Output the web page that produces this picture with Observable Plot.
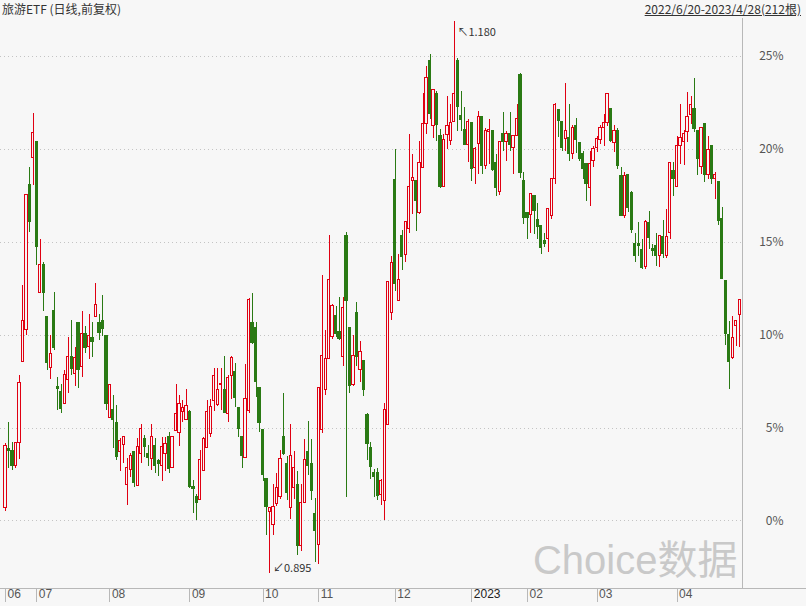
<!DOCTYPE html>
<html><head><meta charset="utf-8">
<script src="https://cdn.jsdelivr.net/npm/d3@7"></script>
<script src="https://cdn.jsdelivr.net/npm/@observablehq/plot@0.6"></script>
<style>
body{margin:0;background:#f7f7f7;}
#wrap{position:relative;width:806px;height:606px;overflow:hidden;font-family:"Noto Sans CJK SC",sans-serif;}
#title{position:absolute;left:2px;top:0px;font-size:12px;color:#333;line-height:18px;}
#range{position:absolute;right:5px;top:0px;font-size:12px;color:#333;line-height:18px;text-decoration:underline;}
svg{display:block;}
</style></head><body>
<div id="wrap"><div id="title">旅游ETF (日线,前复权)</div><div id="range">2022/6/20-2023/4/28(212根)</div></div>
<script>
// percent change vs. base, one value per trading day (212 candles)
const openP=[0.7,3.9,3.76,2.94,4.2,8.55,10.27,18.1,19.53,20.39,12.27,13.8,11.0,8.26,11.3,7.2,6.95,6.3,7.57,8.8,
7.9,10.67,8.28,10.04,9.39,9.86,10.98,10.67,10.76,9.98,5.52,5.97,5.28,3.72,4.1,1.96,2.74,3.72,1.86,3.62,
4.44,3.62,3.33,4.05,3.23,2.94,3.62,4.5,2.84,4.83,4.74,5.87,5.44,5.87,1.82,1.31,1.12,2.68,3.95,4.7,
6.46,6.26,7.3,7.05,5.77,7.83,8.0,6.1,4.54,3.37,5.91,10.67,10.41,7.18,4.89,2.25,0.49,-0.2,0.92,1.27,
4.5,3.07,0.68,1.8,1.96,-1.37,0.98,3.72,3.07,0.39,-1.27,4.89,7.05,8.7,9.88,11.06,10.18,8.8,15.36,10.41,
7.3,11.2,8.12,8.6,5.71,3.95,2.58,2.58,1.41,1.08,5.19,11.2,18.36,11.84,15.36,14.33,15.7,18.3,18.29,16.6,
19.0,21.38,24.78,21.25,22.97,20.7,18.0,20.8,20.45,21.5,24.78,21.8,21.06,20.25,21.4,19.0,20.3,21.74,19.12,20.94,
20.97,19.27,17.7,20.85,20.38,20.85,20.07,20.7,23.98,18.3,16.6,16.45,17.5,16.2,15.86,15.05,15.2,16.4,18.39,22.12,
21.47,20.54,20.63,19.73,21.26,20.36,19.73,19.19,17.94,19.37,20.09,20.5,21.17,21.4,22.19,20.33,20.97,18.55,16.4,18.64,
17.65,14.9,14.9,14.6,13.67,16.04,14.64,14.78,14.24,15.29,14.24,15.5,18.82,17.98,20.2,20.4,20.92,21.83,22.17,20.97,
19.05,21.38,18.64,20.2,18.41,18.25,16.25,12.9,10.03,8.77,10.48,11.1];
const closeP=[4.05,3.78,2.94,4.2,7.44,10.76,17.57,16.09,20.9,14.76,13.8,12.27,8.5,9.0,9.3,7.1,6.03,7.87,8.85,8.2,
8.75,8.12,10.04,9.33,9.94,9.63,11.6,10.12,10.33,6.3,7.32,5.42,3.46,4.3,4.5,2.84,3.52,2.05,4.0,4.95,
3.97,3.37,4.5,2.94,3.07,4.0,4.15,2.8,4.5,5.77,6.3,6.1,6.2,1.82,1.7,0.98,3.29,4.4,5.87,6.16,
7.83,7.05,7.4,5.81,7.7,8.75,6.6,4.93,3.52,6.56,11.88,9.59,7.48,5.28,2.45,0.78,0.68,0.78,1.8,3.33,
3.62,1.5,3.52,2.84,-1.37,0.98,3.29,2.94,1.6,-0.55,7.14,8.9,8.7,12.97,11.55,10.08,9.82,11.45,11.84,7.28,
8.86,8.81,9.1,7.04,4.15,2.88,2.35,1.37,2.15,6.0,12.86,13.9,12.76,12.97,14.19,16.09,17.96,18.47,17.2,19.28,
21.38,23.85,21.88,23.2,21.3,18.0,20.5,21.25,21.4,22.97,22.27,21.6,20.25,21.5,18.97,20.0,21.74,19.12,21.0,21.06,
18.9,17.92,20.38,20.38,20.85,20.25,20.74,21.64,18.73,16.3,16.3,17.6,16.66,15.8,14.7,14.9,16.77,18.42,22.37,21.53,
20.09,20.99,19.73,21.17,20.5,19.5,18.93,18.12,19.19,20.0,20.54,21.17,21.4,22.96,20.45,20.97,19.12,16.4,18.55,16.85,
15.68,14.28,14.78,13.62,16.09,15.23,14.55,14.24,15.32,14.39,15.29,19.27,18.4,20.2,20.61,20.85,21.74,22.4,21.12,19.48,
21.15,18.64,19.99,18.41,18.64,16.13,13.0,10.08,8.54,9.85,10.75,11.9];
const highP=[4.15,5.28,4.2,4.2,7.83,12.66,17.57,19.02,21.92,20.39,15.15,13.9,11.0,9.98,12.3,7.7,7.34,8.12,9.9,10.8,
9.35,10.67,11.3,10.47,11.1,10.67,12.78,11.1,12.13,9.98,7.32,6.75,6.2,4.44,4.5,3.37,3.62,3.72,4.44,5.19,
4.6,4.05,5.19,4.44,3.33,4.5,4.5,4.74,4.5,7.34,6.75,6.46,7.08,5.97,2.19,1.41,3.82,4.5,6.5,6.56,
8.22,8.22,8.22,8.85,7.83,8.85,8.5,6.1,4.54,8.41,12.0,12.23,10.67,7.18,4.89,2.25,0.68,1.96,2.58,3.82,
6.85,3.46,5.19,3.72,2.64,1.96,4.4,5.38,4.4,1.21,7.14,13.2,10.27,15.36,11.64,11.55,12.04,12.04,15.55,10.41,
9.98,11.74,9.65,8.6,5.77,4.2,2.78,2.84,2.25,6.3,12.86,14.23,20.0,14.33,15.66,16.09,20.78,19.7,18.29,20.45,
22.99,24.48,25.1,23.2,23.1,21.06,20.8,22.86,22.4,26.9,24.9,23.1,22.24,21.6,21.4,20.1,22.05,21.74,21.15,21.6,
20.97,19.7,20.38,21.96,20.97,21.96,20.74,22.4,24.08,18.73,16.6,17.6,17.5,17.1,15.86,15.5,16.77,18.42,22.48,22.12,
21.47,23.56,22.43,21.26,21.65,20.36,19.91,19.19,19.91,20.18,20.68,21.26,21.89,22.96,22.19,21.3,21.15,19.0,18.73,18.64,
17.74,15.5,16.04,15.14,16.18,16.67,14.87,15.5,15.32,16.16,16.76,19.27,19.27,20.67,22.4,21.0,23.07,22.86,23.84,20.97,
21.15,21.38,20.7,20.2,18.73,18.25,16.85,12.9,10.75,11.0,10.75,11.9];
const lowP=[0.5,2.84,2.74,2.84,3.33,8.55,10.0,15.52,18.04,13.74,12.23,11.3,8.1,7.63,9.2,5.95,5.77,6.3,6.85,7.83,
7.24,7.14,7.73,9.0,8.7,8.8,10.98,9.7,9.94,5.97,5.52,3.9,3.27,2.64,3.07,0.82,2.35,1.82,1.86,3.1,
3.42,2.94,2.74,2.58,2.39,2.15,2.64,2.58,2.84,4.83,4.0,5.28,5.44,1.76,0.39,0.0,1.08,2.68,3.95,4.5,
5.87,6.16,5.97,5.77,5.28,6.56,6.1,4.5,2.84,3.37,5.77,9.49,6.62,4.74,2.15,-0.78,-2.84,-0.78,0.78,1.17,
3.52,1.08,0.1,1.17,-1.86,-1.66,0.98,2.45,1.08,-2.25,-2.35,4.7,6.75,8.7,9.78,9.88,9.69,8.3,1.27,6.85,
7.24,8.3,7.44,6.69,3.27,2.25,1.27,1.08,0.82,0.0,5.19,10.77,12.33,11.84,13.5,13.9,15.46,16.5,15.6,16.5,
19.0,20.8,21.6,20.6,20.4,17.9,18.0,20.0,20.2,21.5,20.98,20.98,20.25,19.28,18.29,18.1,18.64,18.64,18.9,19.2,
18.8,17.47,17.5,19.9,19.36,19.9,18.64,20.7,18.43,15.97,15.14,15.5,15.4,15.14,14.33,14.7,14.44,16.24,18.12,20.63,
19.86,19.86,19.37,19.46,19.79,19.37,18.39,17.22,16.95,19.01,19.82,20.27,20.18,21.22,20.36,19.82,18.9,16.4,16.3,16.58,
15.5,13.89,14.24,13.56,13.56,14.6,14.24,13.7,13.62,14.15,14.15,15.14,17.47,17.98,19.18,19.12,20.35,21.33,20.92,18.59,
18.64,18.23,18.37,18.1,17.29,15.91,13.0,9.44,7.07,8.68,9.4,9.36];
// month start positions (trading-day index) and their labels
const monthIdx=[0,9,30,53,74,90,112,134,150,170,193];
const monthLabels=["06","07","08","09","10","11","12","2023","02","03","04"];
const yTicks=[0,5,10,15,20,25];
// annotated extremes
const highNote={i:129,p:26.9,text:"↖1.180"};
const lowNote={i:76,p:-2.84,text:"↙0.895"};

const RED="#e00012", GREEN="#2a7a14", BG="#f7f7f7";
const candles=openP.map((o,i)=>({i,open:o,close:closeP[i],high:highP[i],low:lowP[i],up:closeP[i]>=o}));
const ups=candles.filter(d=>d.up), downs=candles.filter(d=>!d.up);
const hw=0.32;
const font='"Noto Sans CJK SC", sans-serif';
const latin='"Liberation Sans", sans-serif';
const crisp={shapeRendering:"crispEdges"};

const chart=Plot.plot({
  width:806,height:606,
  marginLeft:0,marginRight:64,marginTop:18,marginBottom:18,
  style:{background:BG,fontFamily:font,fontSize:"12px"},
  x:{type:"linear",domain:[-1.44,211.8],axis:null,label:null},
  y:{type:"linear",domain:[-3.633,27.045],axis:null,label:null},
  marks:[
    Plot.ruleY(yTicks,{stroke:"#c4c4c4",strokeDasharray:"1,3",...crisp}),
    Plot.ruleX(ups,{x:"i",y1:"low",y2:"high",stroke:RED,...crisp}),
    Plot.ruleX(downs,{x:"i",y1:"low",y2:"high",stroke:GREEN,...crisp}),
    Plot.rect(ups,{x1:d=>d.i-hw,x2:d=>d.i+hw,y1:"open",y2:"close",fill:BG,stroke:RED,...crisp}),
    Plot.rect(downs,{x1:d=>d.i-hw,x2:d=>d.i+hw,y1:"open",y2:"close",fill:GREEN,stroke:GREEN,...crisp}),
    Plot.axisY({anchor:"right",ticks:yTicks,tickFormat:d=>d+"%",tickSize:0,textAnchor:"end",dx:32,fill:"#555",fontSize:12,label:null}),
    Plot.axisX({anchor:"bottom",ticks:monthIdx,tickFormat:()=>"",tickSize:14,stroke:"#b8b8b8",label:null,...crisp}),
    Plot.text(monthIdx.filter((d,k)=>monthLabels[k]!=="2023"),{x:d=>d,frameAnchor:"bottom",dy:9,dx:2,textAnchor:"start",text:d=>monthLabels[monthIdx.indexOf(d)],fill:"#555",fontSize:12,fontFamily:latin}),
    Plot.text(monthIdx.filter((d,k)=>monthLabels[k]==="2023"),{x:d=>d,frameAnchor:"bottom",dy:9,dx:2,textAnchor:"start",text:d=>monthLabels[monthIdx.indexOf(d)],fill:"#222",fontSize:12,fontFamily:latin}),
    Plot.text([highNote],{x:"i",y:"p",text:"text",textAnchor:"start",dx:3,dy:11,fill:"#333",fontSize:11}),
    Plot.text([lowNote],{x:"i",y:"p",text:"text",textAnchor:"start",dx:3,dy:-5,fill:"#333",fontSize:11}),
    Plot.text(["Choice数据"],{frameAnchor:"bottom-right",lineAnchor:"middle",dx:-5,dy:-27,fill:"#c9c9c9",fontSize:40,fontFamily:'"Liberation Sans", "Noto Sans CJK SC", sans-serif'})
  ]
});
const svg=d3.select(chart);
const xr=chart.scale("x").range, yr=chart.scale("y").range;
svg.append("line").attr("x1",0).attr("x2",806).attr("y1",yr[0]+0.5).attr("y2",yr[0]+0.5).attr("stroke","#b8b8b8");
svg.append("line").attr("x1",xr[1]+0.5).attr("x2",xr[1]+0.5).attr("y1",18).attr("y2",yr[0]).attr("stroke","#b8b8b8");
document.getElementById("wrap").prepend(chart);
</script></body></html>
